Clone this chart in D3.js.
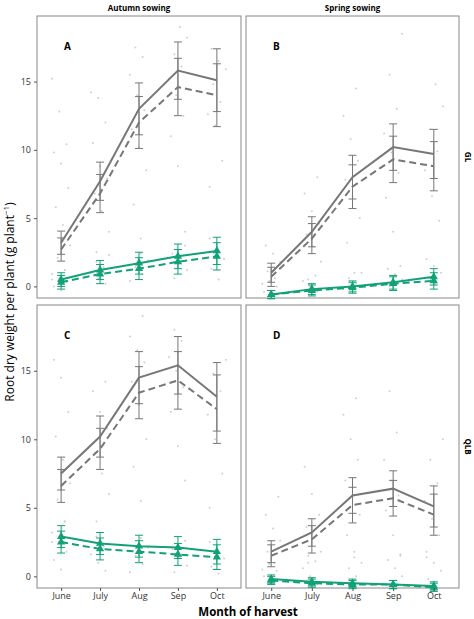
<!DOCTYPE html>
<html><head><meta charset="utf-8">
<script src="https://cdn.jsdelivr.net/npm/d3@7"></script>
<style>body{margin:0;background:#fff}text{font-family:"Open Sans",sans-serif}</style>
</head><body><div id="chart"></div>
<script>
"use strict";

const months = ["June", "July", "Aug", "Sep", "Oct"];
const colSowing = ["Autumn sowing", "Spring sowing"];
const rowSite = ["GL", "QLB"];
const panelLabels = ["A", "B", "C", "D"];
const yTicks = [0, 5, 10, 15];

// mean and half error bar per panel (A,B,C,D), series: grey solid, grey dashed, green solid, green dashed
const greySolid = [[3.2, 7.7, 13.0, 15.8, 15.1], [1.0, 4.0, 8.0, 10.2, 9.7], [7.5, 10.2, 14.5, 15.4, 13.1], [1.8, 3.2, 5.9, 6.4, 5.1]];
const greyDashed = [[2.7, 6.8, 12.0, 14.6, 14.0], [0.7, 3.5, 7.3, 9.3, 8.8], [6.6, 9.3, 13.4, 14.3, 12.2], [1.5, 2.7, 5.2, 5.7, 4.5]];
const greyErr = [[0.85, 1.4, 1.9, 2.1, 2.3], [0.7, 1.1, 1.6, 1.7, 1.8], [1.2, 1.5, 1.9, 2.1, 2.5], [0.8, 1.0, 1.3, 1.3, 1.5]];
const greenSolid = [[0.5, 1.2, 1.7, 2.2, 2.6], [-0.6, -0.2, 0.0, 0.3, 0.7], [2.9, 2.4, 2.2, 2.1, 1.8], [-0.2, -0.4, -0.5, -0.6, -0.7]];
const greenDashed = [[0.3, 0.9, 1.3, 1.8, 2.2], [-0.6, -0.3, -0.1, 0.2, 0.4], [2.5, 2.0, 1.8, 1.6, 1.4], [-0.3, -0.5, -0.6, -0.6, -0.8]];
const greenErr = [[0.5, 0.7, 0.8, 0.9, 1.0], [0.3, 0.4, 0.4, 0.5, 0.6], [0.8, 0.8, 0.8, 0.8, 0.9], [0.3, 0.3, 0.3, 0.3, 0.3]];

// raw observations (approximate), per panel, per month
const rawGrey = [
  [[0.5, 1.2, 2.1, 3.0, 4.5, 5.8, 7.2, 9.0, 9.8, 10.4, 12.8, 15.2], [2.5, 4.0, 5.5, 6.8, 7.9, 8.8, 10.5, 12.0, 13.8, 14.2], [3.5, 6.0, 8.5, 10.2, 11.5, 12.9, 14.0, 15.5, 16.8, 17.5], [4.0, 8.8, 11.0, 12.5, 14.0, 15.2, 16.1, 17.0, 18.2, 19.0], [7.3, 9.2, 11.8, 12.6, 13.5, 14.8, 15.9, 16.5, 17.4]],
  [[0.2, 0.6, 1.1, 1.8, 2.4, 3.0], [0.5, 1.8, 2.9, 3.8, 4.6, 5.5, 6.8, 8.0], [1.0, 3.2, 5.0, 6.6, 7.8, 9.2, 10.8, 12.5, 14.5], [1.5, 4.0, 6.5, 8.3, 9.8, 11.2, 13.0, 15.5, 18.5], [2.0, 4.8, 6.6, 8.5, 9.9, 11.5, 13.2, 14.8]],
  [[2.5, 4.0, 5.6, 6.8, 8.5, 10.2, 12.0, 14.5, 15.8], [4.0, 6.0, 7.5, 9.0, 10.8, 12.0, 13.5, 14.2], [5.5, 8.0, 10.0, 12.5, 14.2, 15.6, 16.5, 17.5, 19.0], [7.0, 9.5, 12.0, 13.8, 15.0, 16.0, 17.2, 18.0], [5.0, 7.5, 10.0, 11.8, 13.5, 14.8, 15.8]],
  [[0.5, 1.0, 1.8, 2.6, 3.5, 4.5, 5.8], [1.0, 1.8, 2.8, 3.6, 4.5, 6.0, 8.0], [1.8, 3.0, 4.5, 5.8, 7.0, 8.5, 10.0, 11.8, 13.0], [1.5, 3.0, 4.8, 5.9, 7.0, 8.5, 10.5, 13.5], [1.8, 3.0, 4.2, 5.5, 6.8, 8.5, 10.0]]
];
const rawGreen = [
  [[-0.3, 0.0, 0.3, 0.6, 0.9, 1.2], [0.2, 0.6, 1.0, 1.4, 1.8, 2.3], [0.4, 0.9, 1.4, 1.9, 2.4], [0.6, 1.2, 1.8, 2.4, 3.0], [0.5, 1.3, 2.0, 2.7, 3.5]],
  [[-0.7, -0.4, 0.0, 0.4], [-0.4, 0.0, 0.4, 0.8], [-0.2, 0.2, 0.6, 1.0], [0.0, 0.5, 0.9, 1.3], [0.2, 0.6, 1.0, 1.5]],
  [[0.5, 1.2, 1.8, 2.5, 3.2, 4.0], [0.4, 1.0, 1.6, 2.2, 2.9], [0.3, 0.9, 1.5, 2.1, 2.8], [0.3, 0.8, 1.4, 2.0, 2.6], [0.2, 0.7, 1.3, 1.9, 2.5]],
  [[-0.5, 0.0, 0.4, 0.9], [-0.6, 0.0, 0.6, 1.1, 1.5], [-0.6, 0.0, 0.6, 1.0, 1.4], [-0.7, 0.0, 0.6, 1.2, 1.6], [-0.8, -0.2, 0.4, 1.0, 1.4]]
];

const W = 474, H = 619;
const panelX = [[37, 241], [246, 459]];
const panelY = [[16, 298], [305, 588]];
const grey = "#777", green = "#13a177";

const svg = d3.select("#chart").append("svg").attr("width", W).attr("height", H);

const y0 = d3.scaleLinear().domain([-0.85, 19.8]);

panelLabels.forEach(function(lab, i) {
  let r = Math.floor(i / 2), c = i % 2;
  let x = d3.scalePoint().domain(months).range(panelX[c]).padding(0.62);
  let y = y0.copy().range([panelY[r][1], panelY[r][0]]);
  let g = svg.append("g");

  g.append("rect").attr("x", panelX[c][0]).attr("y", panelY[r][0])
    .attr("width", panelX[c][1] - panelX[c][0]).attr("height", panelY[r][1] - panelY[r][0])
    .attr("fill", "#fff").attr("stroke", "#888").attr("stroke-width", 1);

  // raw points with fixed jitter
  [rawGrey[i], rawGreen[i]].forEach(function(set, s) {
    set.forEach(function(vals, m) {
      vals.forEach(function(v, k) {
        let jx = ((k * 7 + m * 3 + s * 5) % 11 - 5) * 1.8;
        g.append("circle").attr("cx", x(months[m]) + jx).attr("cy", y(v)).attr("r", 1)
          .attr("fill", "#cfcfcf");
      });
    });
  });

  function series(vals, err, color, dash, tri) {
    let pts = months.map((m, k) => [x(m), vals[k], err[k]]);
    pts.forEach(function(p) {
      let e = g.append("g").attr("stroke", color).attr("stroke-width", 1);
      e.append("line").attr("x1", p[0]).attr("x2", p[0]).attr("y1", y(p[1] - p[2])).attr("y2", y(p[1] + p[2]));
      [p[1] - p[2], p[1] + p[2]].forEach(v => e.append("line")
        .attr("x1", p[0] - 4).attr("x2", p[0] + 4).attr("y1", y(v)).attr("y2", y(v)));
    });
    g.append("path").attr("d", d3.line().x(p => p[0]).y(p => y(p[1]))(pts))
      .attr("fill", "none").attr("stroke", color).attr("stroke-width", 2)
      .attr("stroke-dasharray", dash ? "7,4" : null);
    if (tri) {
      pts.forEach(p => g.append("path").attr("d", d3.symbol(d3.symbolTriangle, 30)())
        .attr("transform", `translate(${p[0]},${y(p[1])})`).attr("fill", color));
    }
  }
  series(greySolid[i], greyErr[i], grey, false, false);
  series(greyDashed[i], greyErr[i], grey, true, false);
  series(greenSolid[i], greenErr[i], green, false, true);
  series(greenDashed[i], greenErr[i], green, true, true);

  g.append("text").attr("x", panelX[c][0] + 27).attr("y", panelY[r][0] + 34)
    .attr("font-size", 10).attr("font-weight", "bold").text(lab);

  if (c === 0) {
    let ax = g.append("g").attr("transform", `translate(${panelX[0][0]},0)`)
      .call(d3.axisLeft(y).tickValues(yTicks).tickSize(3));
    ax.select(".domain").remove();
    ax.selectAll("line").attr("stroke", "#555");
    ax.selectAll("text").attr("font-size", 9).attr("fill", "#333").style("font-family", "Open Sans");
  }
  if (r === 1) {
    let ax = g.append("g").attr("transform", `translate(0,${panelY[1][1]})`)
      .call(d3.axisBottom(x).tickSize(3));
    ax.select(".domain").remove();
    ax.selectAll("line").attr("stroke", "#555");
    ax.selectAll("text").attr("font-size", 9).attr("fill", "#333").attr("dy", "0.6em")
      .style("font-family", "Open Sans");
  }
});

colSowing.forEach((t, c) => svg.append("text")
  .attr("x", (panelX[c][0] + panelX[c][1]) / 2).attr("y", 11).attr("text-anchor", "middle")
  .attr("font-size", 8).attr("font-weight", "bold").text(t));
rowSite.forEach((t, r) => svg.append("text")
  .attr("transform", `translate(465,${(panelY[r][0] + panelY[r][1]) / 2}) rotate(90)`)
  .attr("text-anchor", "middle").attr("font-size", 8).attr("font-weight", "bold").text(t));

svg.append("text").attr("x", 248).attr("y", 616).attr("text-anchor", "middle")
  .attr("font-size", 11.5).attr("font-weight", "bold").text("Month of harvest");

let yt = svg.append("text").attr("transform", "translate(14,302) rotate(-90)")
  .attr("text-anchor", "middle").attr("font-size", 12);
yt.append("tspan").text("Root dry weight per plant (g plant");
yt.append("tspan").attr("dy", -5).attr("font-size", 8).text("−1");
yt.append("tspan").attr("dy", 5).text(")");
</script></body></html>
